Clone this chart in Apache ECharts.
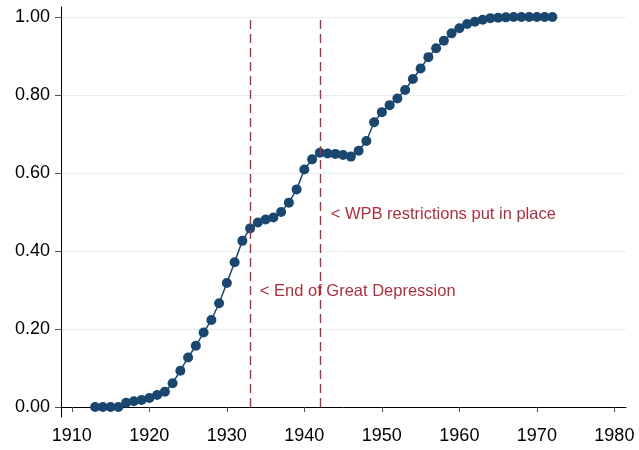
<!DOCTYPE html>
<html>
<head>
<meta charset="utf-8">
<script src="https://cdn.jsdelivr.net/npm/echarts@6/dist/echarts.min.js"></script>
<style>
  html, body { margin: 0; padding: 0; background: #fff; }
  #chart { width: 639px; height: 450px; }
</style>
</head>
<body>
<div id="chart"></div>
<script>
// years and share values
const years = [];
for (let y = 1913; y <= 1972; y++) years.push(y);
const shares = [
  0.000, 0.000, 0.000, 0.000, 0.011, 0.015, 0.018, 0.023, 0.031, 0.039,
  0.061, 0.093, 0.127, 0.157, 0.191, 0.223, 0.266, 0.318, 0.371, 0.426,
  0.458, 0.473, 0.481, 0.486, 0.500, 0.524, 0.558, 0.609, 0.635, 0.652,
  0.650, 0.649, 0.646, 0.642, 0.657, 0.682, 0.730, 0.756, 0.774, 0.791,
  0.813, 0.841, 0.868, 0.897, 0.920, 0.939, 0.958, 0.971, 0.982, 0.988,
  0.993, 0.997, 0.998, 0.999, 1.000, 1.000, 1.000, 1.000, 1.000, 1.000
];
const xTicks = [1910, 1920, 1930, 1940, 1950, 1960, 1970, 1980];
const yTicks = [0, 0.2, 0.4, 0.6, 0.8, 1.0];

// event lines and notes
const eventYears = [1933, 1942];
const notes = [
  { text: '< End of Great Depression', coord: [1934.25, 0.296] },
  { text: '< WPB restrictions put in place', coord: [1943.4, 0.494] }
];

const navy = '#1a476f';
const red = '#a9323f';
const font = '"Liberation Sans", Arial, Helvetica, sans-serif';

const chart = echarts.init(document.getElementById('chart'), null, { renderer: 'canvas' });

const option = {
  backgroundColor: '#fff',
  animation: false,
  grid: { left: 61, right: 13, top: 7, bottom: 33, containLabel: false },
  xAxis: {
    type: 'value',
    min: 1908.6,
    max: 1981.5,
    axisLine: { show: true, lineStyle: { color: '#000', width: 1 } },
    axisTick: { show: true, customValues: xTicks, length: 5, lineStyle: { color: '#555' } },
    axisLabel: {
      customValues: xTicks,
      margin: 10,
      color: '#000',
      fontSize: 18,
      fontFamily: font,
      formatter: v => String(v)
    },
    splitLine: { show: false }
  },
  yAxis: {
    type: 'value',
    min: -0.0256,
    max: 1.0256,
    axisLine: { show: true, lineStyle: { color: '#000', width: 1 } },
    axisTick: { show: true, customValues: yTicks, length: 6, lineStyle: { color: '#555' } },
    axisLabel: {
      customValues: yTicks,
      margin: 11,
      color: '#000',
      fontSize: 18,
      fontFamily: font,
      formatter: v => v.toFixed(2)
    },
    splitLine: { show: false }
  },
  series: [
    {
      // grid lines, under everything
      type: 'line',
      data: [],
      z: 0,
      silent: true,
      markLine: {
        z: 0,
        silent: true,
        symbol: ['none', 'none'],
        label: { show: false },
        lineStyle: { color: '#e6edf0', type: 'solid', width: 1 },
        data: yTicks.map(v => ({ yAxis: v }))
      }
    },
    {
      // event lines and notes
      type: 'line',
      data: [],
      z: 4,
      silent: true,
      markLine: {
        silent: true,
        symbol: ['none', 'none'],
        label: { show: false },
        lineStyle: { color: red, type: [9, 5], width: 1.4 },
        data: eventYears.map(yr => [{ coord: [yr, 0] }, { coord: [yr, 1] }])
      },
      markPoint: {
        silent: true,
        symbol: 'circle',
        symbolSize: 0,
        data: notes.map(n => ({
          coord: n.coord,
          label: {
            show: true,
            position: 'right',
            distance: 0,
            formatter: n.text,
            color: red,
            fontSize: 16.5,
            fontFamily: font
          }
        }))
      }
    },
    {
      name: 'share',
      type: 'line',
      z: 3,
      data: years.map((y, i) => [y, shares[i]]),
      symbol: 'circle',
      symbolSize: 10,
      itemStyle: { color: navy },
      lineStyle: { color: navy, width: 1.5 }
    }
  ]
};

chart.setOption(option);
</script>
</body>
</html>
